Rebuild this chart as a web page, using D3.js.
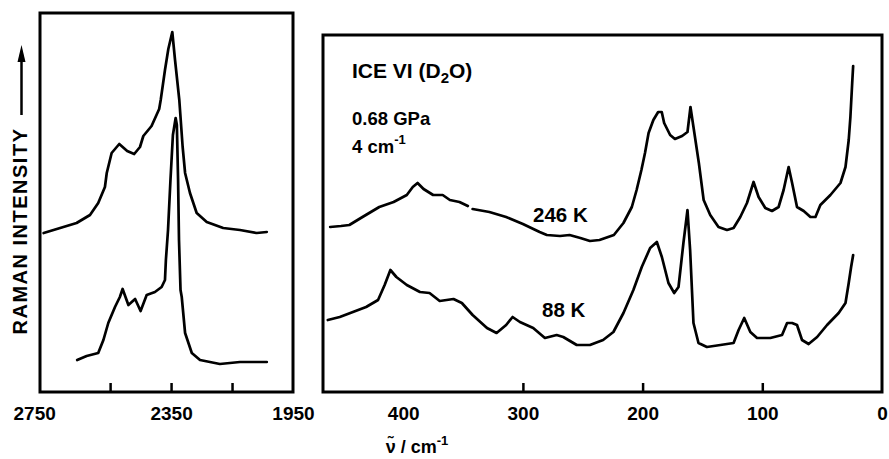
<!DOCTYPE html>
<html>
<head>
<meta charset="utf-8">
<script src="https://cdn.jsdelivr.net/npm/d3@7"></script>
<style>
body { margin: 0; background: #fff; }
text { font-family: "Liberation Sans", Arial, sans-serif; font-weight: bold; fill: #000; }
</style>
</head>
<body>
<div id="chart"></div>
<script>
// O-D stretch region (left panel), upper = 246 K, lower = 88 K
const leftTopX = [2768, 2714, 2660, 2616, 2589, 2567, 2561, 2545, 2520, 2494, 2471, 2452, 2441, 2414, 2389, 2384, 2370, 2359, 2346, 2337, 2323, 2312, 2304, 2288, 2266, 2233, 2179, 2124, 2069, 2036];
const leftTopY = [159, 164, 169, 177, 189, 205, 219, 239, 248, 241, 238, 245, 256, 266, 283, 292, 322, 343, 360, 332, 292, 245, 219, 199, 179, 170, 164, 162, 159, 160];
const leftBotX = [2658, 2627, 2589, 2572, 2556, 2534, 2518, 2509, 2490, 2468, 2450, 2430, 2403, 2381, 2370, 2367, 2360, 2352, 2344, 2335, 2331, 2327, 2324, 2319, 2315, 2304, 2282, 2255, 2190, 2124, 2036];
const leftBotY = [32, 36, 39, 52, 69, 85, 95, 103, 87, 93, 81, 97, 100, 105, 112, 132, 162, 212, 257, 274, 267, 212, 152, 102, 95, 59, 39, 32, 28, 30, 30];

// lattice region (right panel)
const k246X = [461, 452, 445, 434, 420, 408, 397, 392, 388, 383, 375, 367, 361, 353, 346, 344, 342, 328, 314, 300, 286, 280, 269, 261, 252, 244, 236, 224, 216, 209, 205, 201, 198, 195, 191, 187, 184, 182, 177, 173, 167, 162.5, 160, 157.5, 153, 149, 143.5, 136.6, 129.5, 124, 118.4, 112.8, 107.3, 103.1, 97.5, 91.9, 86.4, 82.2, 78, 75.1, 71, 65.4, 59.8, 55.6, 51.5, 43.1, 34.7, 30.5, 27.8, 26.4, 24.9, 24.1];
const k246Y = [165, 166, 167, 175, 185, 190, 197, 205, 209, 203, 197, 197, 192, 190, 186, null, 183, 180, 175, 168, 160, 157, 156, 157, 154, 151, 152, 157, 169, 185, 202, 222, 239, 259, 272, 280, 280, 269, 257, 253, 256, 260, 285, 265, 229, 192, 177, 165, 162, 164, 175, 189, 210, 195, 184, 181, 185, 202, 225, 209, 185, 181, 175, 175, 187, 197, 209, 225, 252, 275, 309, 326];
const k88X = [463, 453, 442, 431, 421, 415.5, 410.7, 405.7, 397, 386, 378, 369.5, 358, 351, 342, 330, 322, 314, 308.6, 302.5, 291.4, 281.6, 271.8, 266.3, 255, 244, 233, 224.4, 216, 207.7, 200.7, 193.7, 188.1, 183.9, 178.4, 173.6, 170, 165.9, 162.5, 160.3, 157.5, 153.3, 146.3, 135, 124, 119.8, 115.1, 110, 104.4, 93.3, 83.5, 79.3, 75.1, 71, 66.8, 61.3, 54.2, 45.9, 36.2, 30.5, 27.8, 25.8, 24.1];
const k88Y = [72, 75, 80, 85, 92, 107, 122, 115, 107, 100, 99, 91, 93, 89, 77, 64, 59, 67, 75, 70, 64, 54, 57, 55, 47, 47, 52, 60, 79, 102, 125, 144, 150, 135, 109, 99, 105, 149, 182, 142, 69, 49, 45, 47, 49, 62, 74, 60, 54, 54, 57, 69, 69, 67, 52, 48, 55, 67, 79, 89, 109, 125, 137];

const leftTicks = [2550, 2350, 2150];
const leftLabels = [2750, 2350, 1950];
const rightTicks = [300, 200, 100];
const rightLabels = [400, 300, 200, 100, 0];

const W = 889, H = 459;
const svg = d3.select('#chart').append('svg')
	.attr('width', W)
	.attr('height', H);

const y = d3.scaleLinear().domain([0, 380]).range([392, 12]);
const xL = d3.scaleLinear().domain([2780, 1950]).range([40, 293]);
const xR = d3.scaleLinear().domain([467, 0]).range([323, 882]);

function drawCurve(xs, ys, x) {
	const pts = xs.map((d, i) => [d, ys[i]]);
	const line = d3.line()
		.defined(d => d[1] !== null)
		.x(d => x(d[0]))
		.y(d => y(d[1]));
	svg.append('path')
		.datum(pts)
		.attr('d', line)
		.attr('fill', 'none')
		.attr('stroke', '#000')
		.attr('stroke-width', 2.7)
		.attr('stroke-linejoin', 'round')
		.attr('stroke-linecap', 'round');
}

function drawFrame(x, top, ticks, labels, labelShift) {
	const [x0, x1] = x.range();
	svg.append('rect')
		.attr('x', x0).attr('y', top)
		.attr('width', x1 - x0).attr('height', 392 - top)
		.attr('fill', 'none')
		.attr('stroke', '#000')
		.attr('stroke-width', 3);

	// inward tick marks
	const gt = svg.append('g')
		.attr('transform', 'translate(0,392)')
		.call(d3.axisTop(x).tickValues(ticks).tickSize(9).tickFormat(''));
	gt.select('.domain').remove();
	gt.selectAll('line').attr('stroke-width', 2.5);

	// tick labels
	const gl = svg.append('g')
		.attr('transform', 'translate(0,392)')
		.call(d3.axisBottom(x).tickValues(labels).tickSize(0).tickPadding(14.5).tickFormat(d3.format('d')));
	gl.select('.domain').remove();
	gl.selectAll('text')
		.attr('font-size', 19)
		.attr('font-family', null)
		.attr('dx', d => labelShift(d));
}

drawFrame(xL, 13, leftTicks, leftLabels, d => d === 2750 ? -15 : 0);
drawFrame(xR, 35, rightTicks, rightLabels, d => 0);

drawCurve(leftTopX, leftTopY, xL);
drawCurve(leftBotX, leftBotY, xL);
drawCurve(k246X, k246Y, xR);
drawCurve(k88X, k88Y, xR);

// y axis title with arrow
svg.append('text')
	.attr('transform', 'translate(27,231) rotate(-90)')
	.attr('text-anchor', 'middle')
	.attr('font-size', 20)
	.attr('letter-spacing', 1.5)
	.text('RAMAN INTENSITY');
svg.append('line')
	.attr('x1', 21.5).attr('x2', 21.5)
	.attr('y1', 115).attr('y2', 55)
	.attr('stroke', '#000').attr('stroke-width', 2.5);
svg.append('path')
	.attr('d', 'M21.5,45 L17.5,62 L25.5,62 Z')
	.attr('fill', '#000');

// x axis title
const xt = svg.append('text')
	.attr('x', 417).attr('y', 453)
	.attr('text-anchor', 'middle')
	.attr('font-size', 18);
xt.append('tspan').text('\u03bd\u0303 / cm');
xt.append('tspan').attr('font-size', 13).attr('dy', -8).text('-1');

// annotations in right panel
const t1 = svg.append('text').attr('x', 352).attr('y', 78).attr('font-size', 21);
t1.append('tspan').text('ICE VI (D');
t1.append('tspan').attr('font-size', 15).attr('dy', 5).text('2');
t1.append('tspan').attr('dy', -5).text('O)');

svg.append('text').attr('x', 352).attr('y', 125).attr('font-size', 18.5).text('0.68 GPa');
const t3 = svg.append('text').attr('x', 352).attr('y', 153).attr('font-size', 18.5);
t3.append('tspan').text('4 cm');
t3.append('tspan').attr('font-size', 13).attr('dy', -9).text('-1');

svg.append('text').attr('x', 533).attr('y', 222).attr('font-size', 20.5).text('246 K');
svg.append('text').attr('x', 542).attr('y', 317).attr('font-size', 20.5).text('88 K');
</script>
</body>
</html>
